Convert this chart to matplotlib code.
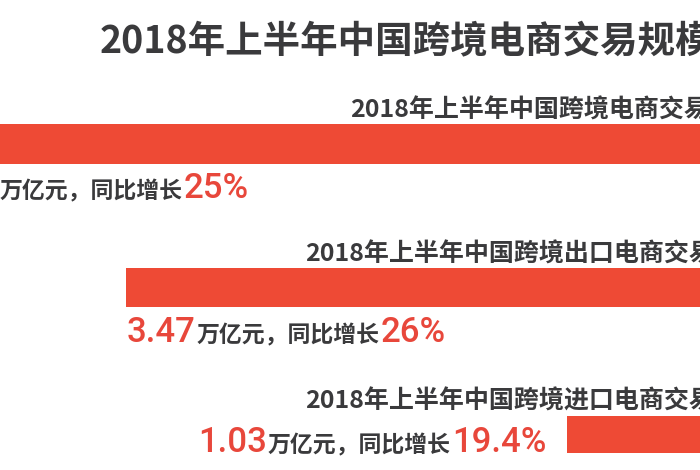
import matplotlib.pyplot as plt

# 2018年上半年中国跨境电商交易规模 (万亿元)
labels = ["2018年上半年中国跨境电商交易规模",
          "2018年上半年中国跨境出口电商交易规模",
          "2018年上半年中国跨境进口电商交易规模"]
values = [4.5, 3.47, 1.03]
growth = ["25%", "26%", "19.4%"]
unit_text = "万亿元，同比增长"
title = "2018年上半年中国跨境电商交易规模"

RED = "#ee4a35"
NUM_RED = "#e8473b"
DARK = "#3a3a3c"
CJK = ["Noto Sans CJK SC", "DejaVu Sans"]
NUM = ["Roboto", "DejaVu Sans"]

fig = plt.figure(figsize=(7, 4.7), dpi=100)
fig.patch.set_facecolor("white")

# bars grow leftwards from a common right end beyond the frame
ax = fig.add_axes([0, 0, 1, 1])
bar_y = [144, 287.5, 434.5]
bar_h = [40, 39, 37]
ax.barh(bar_y, values, height=bar_h, left=0, color=RED)
ax.set_xlim(4.168, 0.294)
ax.set_ylim(470, 0)
ax.axis("off")

# overlay in pixel units for the text
tx = fig.add_axes([0, 0, 1, 1], facecolor="none")
tx.set_xlim(0, 700)
tx.set_ylim(470, 0)
tx.axis("off")

tx.text(100, 52, title, fontsize=27, fontweight="bold", color=DARK,
        family=CJK, va="baseline", ha="left")

label_x = [350, 305, 305]
label_base = [117, 261, 408]
for lab, x, y in zip(labels, label_x, label_base):
    tx.text(x, y, lab, fontsize=18, fontweight="bold", color=DARK,
            family=CJK, va="baseline", ha="left")

renderer = fig.canvas.get_renderer()
row_x = [0, 197, 268]
row_base = [198, 342, 452]
for v, g, x, y in zip(values, growth, row_x, row_base):
    tx.text(x - 1, y, f"{v:g}", fontsize=25, fontweight="medium",
            color=NUM_RED, family=NUM, va="baseline", ha="right")
    mid = tx.text(x, y, unit_text, fontsize=16.5, fontweight="bold",
                  color=DARK, family=CJK, va="baseline", ha="left")
    bb = mid.get_window_extent(renderer)
    x_end = tx.transData.inverted().transform((bb.x1, bb.y0))[0]
    tx.text(x_end + 1, y, g, fontsize=25, fontweight="medium",
            color=NUM_RED, family=NUM, va="baseline", ha="left")

fig.savefig("out.png", dpi=100)
